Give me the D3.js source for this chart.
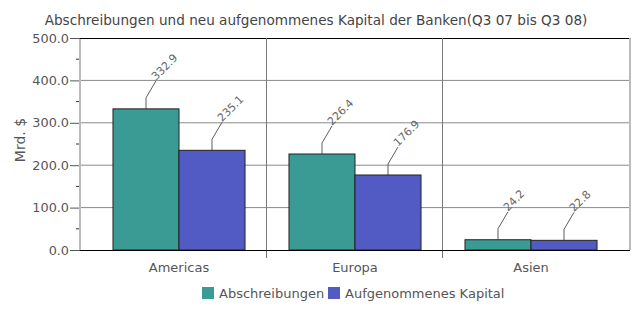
<!DOCTYPE html>
<html>
<head>
<meta charset="utf-8">
<script src="https://cdn.jsdelivr.net/npm/d3@7"></script>
<style>
  body { margin: 0; background: #fff; }
  text { font-family: "DejaVu Sans", Verdana, sans-serif; fill: #555; }
</style>
</head>
<body>
<div id="canvas"></div>
<script>
const title = "Abschreibungen und neu aufgenommenes Kapital der Banken(Q3 07 bis Q3 08)";
const categories = ["Americas", "Europa", "Asien"];
const series = ["Abschreibungen", "Aufgenommenes Kapital"];
const abschreibungen = [332.9, 226.4, 24.2];
const kapital = [235.1, 176.9, 22.8];
const yTicks = [0, 100, 200, 300, 400, 500];
const colors = ["#3a9a94", "#525bc3"];

const width = 637, height = 309;
const plot = { left: 80, right: 630, top: 38, bottom: 250 };

const svg = d3.select("#canvas").append("svg")
    .attr("width", width)
    .attr("height", height);

const y = d3.scaleLinear().domain([0, 500]).range([plot.bottom, plot.top]);
const x = d3.scaleBand().domain(categories).range([91, 619]);
const x1 = d3.scaleBand().domain(series).range([0, x.bandwidth()]).paddingOuter(0.333);

const data = categories.map((c, i) => ({ cat: c, vals: [abschreibungen[i], kapital[i]] }));

// title
svg.append("text")
    .attr("x", 316).attr("y", 25)
    .attr("text-anchor", "middle")
    .style("font-size", "13.6px")
    .style("fill", "#444")
    .text(title);

// gridlines
svg.append("g").selectAll("line").data(yTicks.filter(t => t > 0 && t < 500)).enter().append("line")
    .attr("x1", plot.left).attr("x2", plot.right)
    .attr("y1", d => y(d)).attr("y2", d => y(d))
    .attr("stroke", "#8a8a8a").attr("stroke-width", 1);

// top border
svg.append("line")
    .attr("x1", plot.left - 10).attr("x2", plot.right)
    .attr("y1", y(500) + 0.5).attr("y2", y(500) + 0.5)
    .attr("stroke", "#000");

// right border
svg.append("line")
    .attr("x1", plot.right).attr("x2", plot.right)
    .attr("y1", plot.top).attr("y2", plot.bottom)
    .attr("stroke", "#bbb").attr("stroke-width", 2);

// category separators
svg.append("g").selectAll("line").data(categories.slice(1)).enter().append("line")
    .attr("x1", d => x(d) - 0.5).attr("x2", d => x(d) - 0.5)
    .attr("y1", plot.top).attr("y2", plot.bottom + 8)
    .attr("stroke", "#777");

// y axis
const yAxis = svg.append("g")
    .attr("transform", `translate(${plot.left},0)`)
    .call(d3.axisLeft(y).tickValues(yTicks).tickFormat(d3.format(".1f")).tickSize(10).tickPadding(1));
yAxis.select(".domain").remove();
yAxis.selectAll("line").attr("stroke", "#555");
yAxis.selectAll("text").style("font-size", "12.8px").style("fill", "#555").attr("font-family", null);

svg.append("g").selectAll("line").data([50, 150, 250, 350, 450]).enter().append("line")
    .attr("x1", plot.left - 4).attr("x2", plot.left)
    .attr("y1", d => y(d)).attr("y2", d => y(d))
    .attr("stroke", "#333");

svg.append("line")
    .attr("x1", plot.left).attr("x2", plot.left)
    .attr("y1", plot.top + 1).attr("y2", plot.bottom)
    .attr("stroke", "#bbb").attr("stroke-width", 2);

// y label
svg.append("text")
    .attr("transform", "translate(25,140) rotate(-90)")
    .attr("text-anchor", "middle")
    .style("font-size", "14px")
    .text("Mrd. $");

// bars
const groups = svg.append("g").selectAll("g").data(data).enter().append("g")
    .attr("transform", d => `translate(${x(d.cat)},0)`);

groups.selectAll("rect").data(d => d.vals).enter().append("rect")
    .attr("x", (d, i) => x1(series[i]))
    .attr("y", d => y(d))
    .attr("width", x1.bandwidth())
    .attr("height", d => plot.bottom - y(d))
    .attr("fill", (d, i) => colors[i])
    .attr("stroke", "#222").attr("stroke-width", 1);

// value labels with leaders
groups.selectAll("path.leader").data(d => d.vals).enter().append("path")
    .attr("class", "leader")
    .attr("d", (d, i) => {
        const cx = x1(series[i]) + x1.bandwidth() / 2;
        const top = y(d);
        return `M${cx},${top}V${top - 11}L${cx + 10},${top - 28}`;
    })
    .attr("fill", "none").attr("stroke", "#333").attr("stroke-width", 0.8);

groups.selectAll("text.val").data(d => d.vals).enter().append("text")
    .attr("class", "val")
    .attr("transform", (d, i) => {
        const cx = x1(series[i]) + x1.bandwidth() / 2;
        return `translate(${cx + 10},${y(d) - 28}) rotate(-45)`;
    })
    .style("font-size", "11px")
    .style("fill", "#666")
    .text(d => d3.format(".1f")(d));

// x axis
svg.append("line")
    .attr("x1", plot.left).attr("x2", plot.right)
    .attr("y1", plot.bottom + 0.5).attr("y2", plot.bottom + 0.5)
    .attr("stroke", "#000");

svg.append("g").selectAll("text").data(categories).enter().append("text")
    .attr("x", d => x(d) + x.bandwidth() / 2)
    .attr("y", 272)
    .attr("text-anchor", "middle")
    .style("font-size", "13px")
    .text(d => d);

// legend
const legend = svg.append("g");
const legendX = [202, 328];
series.forEach((s, i) => {
    legend.append("rect")
        .attr("x", legendX[i]).attr("y", 287)
        .attr("width", 12).attr("height", 12)
        .attr("fill", colors[i]);
    legend.append("text")
        .attr("x", legendX[i] + 17).attr("y", 298)
        .style("font-size", "13px")
        .text(s);
});
</script>
</body>
</html>
